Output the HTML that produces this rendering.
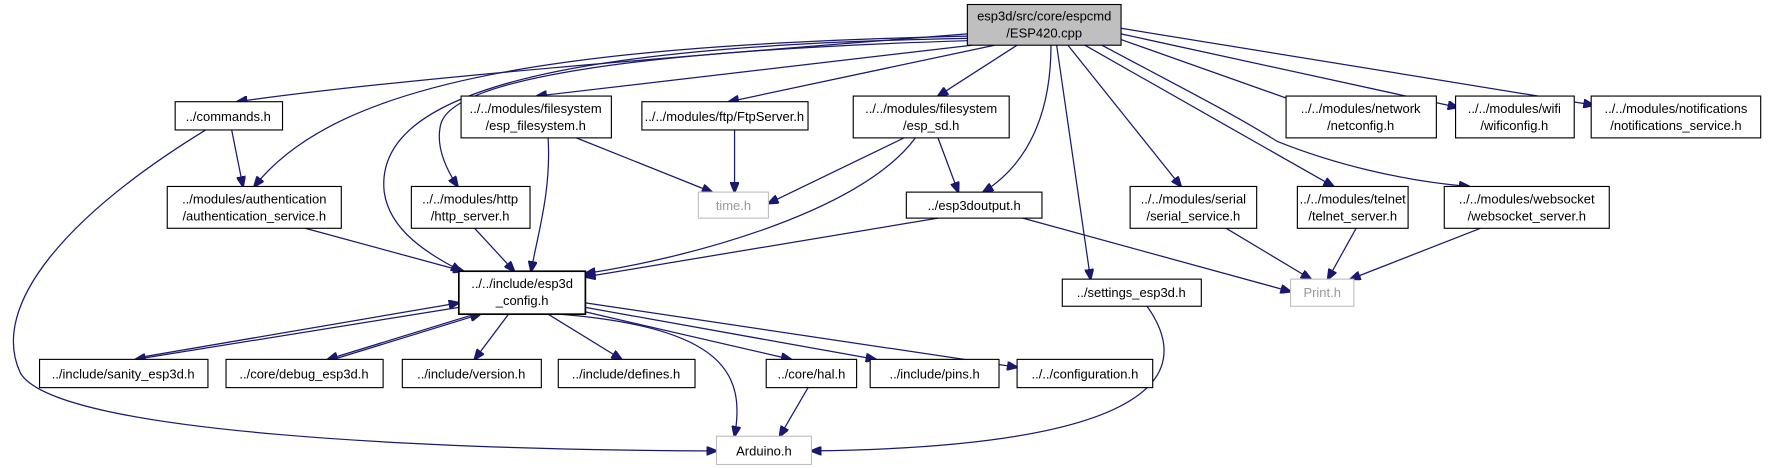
<!DOCTYPE html>
<html><head><meta charset="utf-8"><style>
html,body{margin:0;padding:0;background:#fff;}
svg{display:block;}
text{font-family:"Liberation Sans",sans-serif;font-size:11.5px;fill:#000;text-anchor:middle;}
.g{fill:#999;}
rect{fill:#fff;stroke:#000;stroke-width:1;}
rect.gr{stroke:#bfbfbf;}
path{fill:none;stroke:#191970;stroke-width:1.1;}
</style></head><body>
<svg width="1772" height="469" viewBox="0 0 1568 415" preserveAspectRatio="none" xmlns="http://www.w3.org/2000/svg">
<defs><marker id="a" markerWidth="10" markerHeight="8" refX="9" refY="4" orient="auto" markerUnits="userSpaceOnUse"><path d="M0,0 L10,4 L0,8 z" style="fill:#191970;stroke:#191970"/></marker></defs>
<g marker-end="url(#a)">
<path d="M856,30 C 600,50 350,70 210,90"/>
<path d="M856,32 C 500,40 300,70 225,165"/>
<path d="M856,34 C 500,40 330,80 340,170 C 345,205 380,225 408,240"/>
<path d="M856,36 C 560,45 400,70 390,110 C 385,130 395,150 405,165"/>
<path d="M860,40 L475,85"/>
<path d="M880,40 L645,90"/>
<path d="M900,40 L830,85"/>
<path d="M930,40 C 930,100 910,145 870,170"/>
<path d="M935,40 L965,247"/>
<path d="M945,40 L1045,165"/>
<path d="M960,40 L1180,165"/>
<path d="M975,40 C 1050,80 1090,100 1130,125 C 1180,145 1240,160 1300,165"/>
<path d="M992,35 L1150,91"/>
<path d="M992,30 L1290,95"/>
<path d="M992,25 L1410,93"/>
<path d="M205,115 L215,165"/>
<path d="M182,115 C 60,190 -10,270 18,330 C 50,385 400,398 634,399"/>
<path d="M510,122 L630,170"/>
<path d="M485,122 C 488,170 475,210 470,240"/>
<path d="M650,115 L650,170"/>
<path d="M800,122 L680,180"/>
<path d="M810,122 C 760,190 600,230 518,242"/>
<path d="M830,122 L848,170"/>
<path d="M270,202 L410,240"/>
<path d="M420,202 L455,240"/>
<path d="M830,193 L518,245"/>
<path d="M905,193 L1142,258"/>
<path d="M1085,202 L1160,247"/>
<path d="M1200,202 L1175,247"/>
<path d="M1310,202 L1195,247"/>
<path d="M1015,271 C 1050,320 1050,395 718,399"/>
<path d="M406,272 L120,318"/>
<path d="M125,316 L406,268"/>
<path d="M420,278 L290,318"/>
<path d="M295,318 L425,278"/>
<path d="M450,278 L420,318"/>
<path d="M485,278 L550,318"/>
<path d="M518,276 L700,318"/>
<path d="M518,272 L775,318"/>
<path d="M518,268 L900,325"/>
<path d="M495,278 C 640,290 660,330 650,386"/>
<path d="M715,343 L690,386"/>
</g>
<rect x="856" y="4" width="136" height="36" style="fill:#bfbfbf"/>
<text x="924" y="18">esp3d/src/core/espcmd</text><text x="924" y="33">/ESP420.cpp</text>
<rect x="155" y="90" width="95" height="25"/><text x="202" y="107">../commands.h</text>
<rect x="408" y="85" width="133" height="37"/><text x="474" y="100">../../modules/filesystem</text><text x="474" y="115">/esp_filesystem.h</text>
<rect x="568" y="90" width="147" height="25"/><text x="641" y="107">../../modules/ftp/FtpServer.h</text>
<rect x="755" y="85" width="138" height="37"/><text x="824" y="100">../../modules/filesystem</text><text x="824" y="115">/esp_sd.h</text>
<rect x="1138" y="85" width="133" height="37"/><text x="1204" y="100">../../modules/network</text><text x="1204" y="115">/netconfig.h</text>
<rect x="1288" y="85" width="105" height="37"/><text x="1340" y="100">../../modules/wifi</text><text x="1340" y="115">/wificonfig.h</text>
<rect x="1408" y="85" width="150" height="37"/><text x="1483" y="100">../../modules/notifications</text><text x="1483" y="115">/notifications_service.h</text>
<rect x="148" y="165" width="154" height="37"/><text x="225" y="180">../modules/authentication</text><text x="225" y="195">/authentication_service.h</text>
<rect x="364" y="165" width="105" height="37"/><text x="416" y="180">../../modules/http</text><text x="416" y="195">/http_server.h</text>
<rect class="gr" x="618" y="170" width="62" height="23"/><text class="g" x="649" y="186">time.h</text>
<rect x="802" y="170" width="120" height="23"/><text x="862" y="186">../esp3doutput.h</text>
<rect x="1000" y="165" width="112" height="37"/><text x="1056" y="180">../../modules/serial</text><text x="1056" y="195">/serial_service.h</text>
<rect x="1148" y="165" width="98" height="37"/><text x="1197" y="180">../../modules/telnet</text><text x="1197" y="195">/telnet_server.h</text>
<rect x="1278" y="165" width="146" height="37"/><text x="1351" y="180">../../modules/websocket</text><text x="1351" y="195">/websocket_server.h</text>
<rect x="406" y="240" width="112" height="38" style="stroke-width:1.5"/><text x="462" y="255">../../include/esp3d</text><text x="462" y="270">_config.h</text>
<rect x="940" y="247" width="123" height="24"/><text x="1001" y="263">../settings_esp3d.h</text>
<rect class="gr" x="1142" y="247" width="56" height="24"/><text class="g" x="1170" y="263">Print.h</text>
<rect x="35" y="318" width="149" height="25"/><text x="109" y="335">../include/sanity_esp3d.h</text>
<rect x="200" y="318" width="139" height="25"/><text x="269" y="335">../core/debug_esp3d.h</text>
<rect x="356" y="318" width="123" height="25"/><text x="417" y="335">../include/version.h</text>
<rect x="494" y="318" width="121" height="25"/><text x="554" y="335">../include/defines.h</text>
<rect x="678" y="318" width="80" height="25"/><text x="718" y="335">../core/hal.h</text>
<rect x="770" y="318" width="114" height="25"/><text x="827" y="335">../include/pins.h</text>
<rect x="900" y="318" width="120" height="25"/><text x="960" y="335">../../configuration.h</text>
<rect class="gr" x="634" y="386" width="84" height="25"/><text class="g" x="676" y="403" style="fill:#000">Arduino.h</text>
</svg>
</body></html>
